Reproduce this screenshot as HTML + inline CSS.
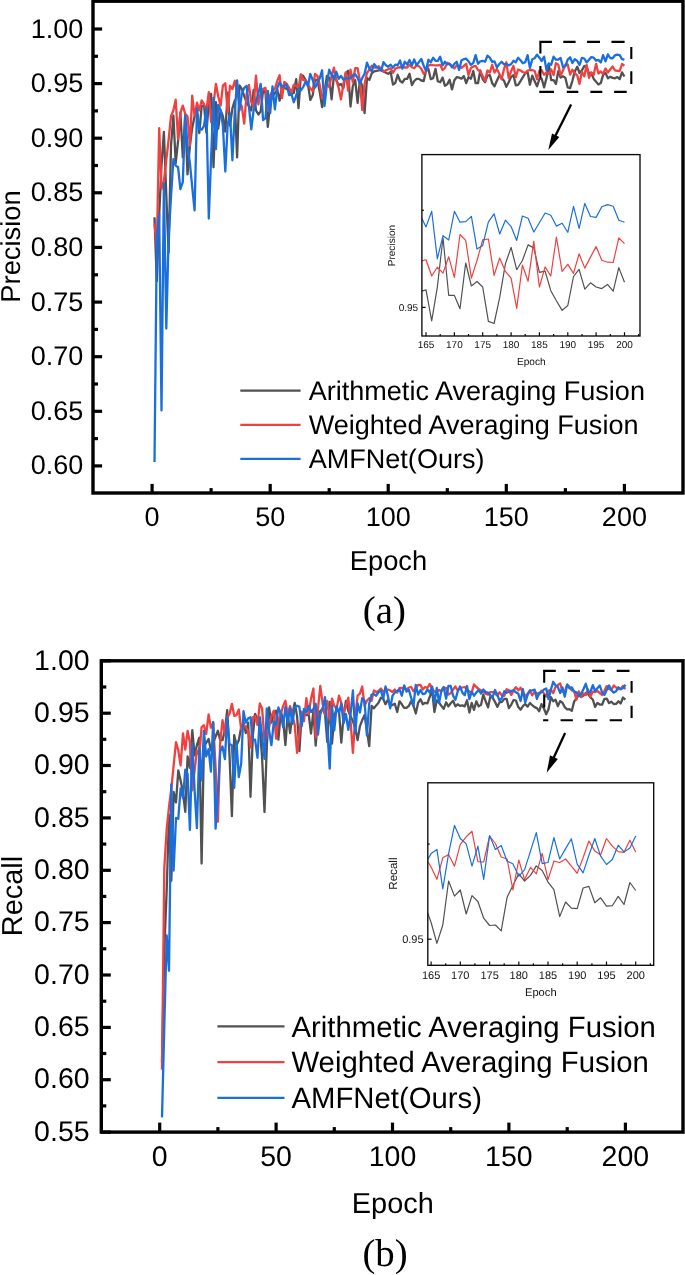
<!DOCTYPE html>
<html lang="en"><head><meta charset="utf-8"><title>Precision and Recall curves</title>
<style>html,body{margin:0;padding:0;background:#fff}body{width:685px;height:1275px;overflow:hidden}svg{display:block;will-change:transform}text{white-space:pre;text-rendering:geometricPrecision}</style>
</head><body>
<svg width="685" height="1275" viewBox="0 0 685 1275">
<rect width="685" height="1275" fill="#fff"/>
<g>
<g fill="none" stroke-width="2.3" stroke-linejoin="round" stroke-linecap="butt">
<polyline stroke="#515151" points="154.5,217.2 156.8,281.2 159.2,215 161.5,165 163.9,132 166.3,195 168.6,252.7 171,145.6 173.4,115.6 175.7,163.2 178.1,140.9 180.4,112.7 182.8,157.3 185.2,115 187.5,174.4 189.9,145.6 192.2,127.9 194.6,116.2 197,113.8 199.3,133.2 201.7,105.6 204.1,105.6 206.4,132.7 208.8,103.2 211.1,93.8 213.5,167.3 215.9,102.1 218.2,128.5 220.6,110.3 222.9,116.2 225.3,131.5 227.7,92.7 230,125.6 232.4,108.4 234.8,100.2 237.1,157.4 239.5,85.4 241.8,88.9 244.2,96.1 246.6,102.2 248.9,106.3 251.3,110.4 253.6,90 256,110.4 258.4,114.5 260.7,111.4 263.1,90 265.5,93 267.8,126.8 270.2,102.2 272.5,96.1 274.9,93 277.3,90 279.6,100.7 282,85.9 284.3,87.9 286.7,88.9 289.1,91 291.4,94 293.8,93 296.2,79.2 298.5,108.1 300.9,74.8 303.2,75.9 305.6,80 308,84 310.3,99.9 312.7,95.3 315,80 317.4,80 319.8,92.2 322.1,107 324.5,92.2 326.9,75.9 329.2,77.9 331.6,99.4 333.9,75.9 336.3,80 338.7,85.1 341,84 343.4,88.1 345.7,73.8 348.1,70.8 350.5,106.5 352.8,86.1 355.2,80 357.6,103 359.9,80 362.3,86.1 364.6,113.2 367,77.9 369.4,80 371.7,73.3 374.1,71.3 376.4,70.8 378.8,70.3 381.2,69.7 383.5,70.8 385.9,72.8 388.2,73.8 390.6,71.8 393,84.6 395.3,83 397.7,74.8 400.1,81 402.4,82.5 404.8,78.9 407.1,78.9 409.5,73.8 411.9,85.1 414.2,81 416.6,78.9 418.9,78.9 421.3,80.5 423.7,81 426,70.8 428.4,68.9 430.8,79.2 433.1,78.1 435.5,68.9 437.8,81.2 440.2,82.2 442.6,77.6 444.9,85.8 447.3,84.3 449.6,79.7 452,89.4 454.4,80.2 456.7,77.1 459.1,77.6 461.5,78.7 463.8,76.1 466.2,83.2 468.5,77.1 470.9,78.7 473.3,71 475.6,83.2 478,83.2 480.3,70.5 482.7,79.2 485.1,82.2 487.4,75.6 489.8,75.1 492.2,83.2 494.5,86.3 496.9,80.7 499.2,75.6 501.6,78.1 504,80.7 506.3,86.8 508.7,82.2 511,77.1 513.4,75.1 515.8,85.3 518.1,84.8 520.5,81.2 522.9,77.1 525.2,73.5 527.6,72 529.9,84.8 532.3,75.6 534.7,81.2 537,86.3 539.4,79.2 541.7,78.7 544.1,87.4 546.5,78 548.8,64 551.2,80.2 553.6,80.2 555.9,84 558.3,71.1 560.6,77.6 563,76.3 565.4,77.9 567.7,87.5 570.1,88.1 572.4,80.8 574.8,71.4 577.2,66.7 579.5,73 581.9,70.4 584.3,66 586.6,66.9 589,73.7 591.3,73.4 593.7,78.9 596.1,81.8 598.4,84.4 600.8,83.1 603.1,74.9 605.5,72.9 607.9,78.4 610.2,76.7 612.6,77.9 615,78.3 617.3,77.1 619.7,79 622,72.4 624.4,76.5"/>
<polyline stroke="#F14040" points="154.5,223.5 156.8,248 159.2,128.2 161.5,189 163.9,181 166.3,160 168.6,140 171,116.2 173.4,110.3 175.7,99.7 178.1,139.1 180.4,112.7 182.8,105.6 185.2,113.8 187.5,116.2 189.9,145.6 192.2,95.6 194.6,116.2 197,102.7 199.3,110.3 201.7,100.3 204.1,104.4 206.4,110.3 208.8,92.1 211.1,122.1 213.5,104.4 215.9,83.8 218.2,96.2 220.6,105.6 222.9,85.6 225.3,83.2 227.7,112.1 230,85.6 232.4,89.1 234.8,80.8 237.1,93 239.5,102.2 241.8,106.3 244.2,123.7 246.6,94 248.9,84.8 251.3,102.2 253.6,106.3 256,75.7 258.4,104.3 260.7,93 263.1,88.9 265.5,87.9 267.8,110.4 270.2,95.1 272.5,91 274.9,88.9 277.3,80.8 279.6,75.2 282,98.1 284.3,81.8 286.7,83.8 289.1,87.9 291.4,92.5 293.8,84.8 296.2,85.9 298.5,88.1 300.9,74.3 303.2,80 305.6,80 308,85.1 310.3,88.1 312.7,91.2 315,73.8 317.4,75.9 319.8,85.1 322.1,98.4 324.5,92.2 326.9,84 329.2,87.1 331.6,75.9 333.9,67.7 336.3,80 338.7,88.1 341,99.4 343.4,84 345.7,72.3 348.1,90.7 350.5,69.7 352.8,82 355.2,68.2 357.6,68.2 359.9,81 362.3,110.1 364.6,84 367,72.8 369.4,69.7 371.7,65.7 374.1,67.7 376.4,67.7 378.8,66.2 381.2,68.7 383.5,71.8 385.9,70.3 388.2,69.2 390.6,68.2 393,72.8 395.3,68.7 397.7,67.5 400.1,67.5 402.4,65.7 404.8,67.5 407.1,67.5 409.5,64.6 411.9,67.2 414.2,68.2 416.6,65.2 418.9,66.2 421.3,68.7 423.7,73.8 426,71.8 428.4,65.4 430.8,64.8 433.1,65.2 435.5,65.4 437.8,65.4 440.2,64.8 442.6,70 444.9,67.9 447.3,62.8 449.6,63.8 452,65.9 454.4,68.4 456.7,65.4 459.1,65.9 461.5,67.9 463.8,65.9 466.2,63.8 468.5,75.1 470.9,67.9 473.3,66.4 475.6,65.9 478,70 480.3,71.5 482.7,76.1 485.1,80.7 487.4,70.5 489.8,72.5 492.2,64.8 494.5,72.5 496.9,68.9 499.2,73.5 501.6,79.2 504,68.9 506.3,62.3 508.7,78.1 511,71.5 513.4,65.9 515.8,77.1 518.1,69.5 520.5,70.5 522.9,72 525.2,73 527.6,70.5 529.9,70 532.3,70 534.7,71 537,79.2 539.4,70.7 541.7,70.2 544.1,74.8 546.5,72.3 548.8,74 551.2,69.4 553.6,75.1 555.9,63.1 558.3,64.8 560.6,75.4 563,70.4 565.4,64.6 567.7,64.4 570.1,74.6 572.4,69.7 574.8,73.5 577.2,75.4 579.5,83.9 581.9,71.7 584.3,76.2 586.6,65 589,77.9 591.3,72.2 593.7,74.8 596.1,63.8 598.4,73.5 600.8,71.5 603.1,74 605.5,68.5 607.9,72.5 610.2,69.5 612.6,66.5 615,70.3 617.3,70.9 619.7,71 622,64 624.4,65.7"/>
<polyline stroke="#1A6FDF" points="154.5,462 156.8,238 159.2,214.2 161.5,410.4 163.9,183.5 166.3,328.5 168.6,238 171,197 173.4,159.1 175.7,165.6 178.1,167.3 180.4,189.1 182.8,182.1 185.2,115.6 187.5,145.6 189.9,163.2 192.2,186.8 194.6,210.3 197,108.5 199.3,129.1 201.7,129.7 204.1,125.6 206.4,107.3 208.8,218.5 211.1,157.3 213.5,97.9 215.9,149.1 218.2,105 220.6,110.3 222.9,125.6 225.3,171.5 227.7,124.4 230,113.8 232.4,160.3 234.8,112 237.1,80.3 239.5,110.4 241.8,94 244.2,87.9 246.6,85.9 248.9,106.3 251.3,129.3 253.6,110.4 256,102.2 258.4,93 260.7,83.8 263.1,120.1 265.5,118.1 267.8,91 270.2,113 272.5,86.4 274.9,109.4 277.3,87.9 279.6,82.3 282,86.4 284.3,85.9 286.7,84.8 289.1,95.1 291.4,94 293.8,102.2 296.2,95.5 298.5,88.7 300.9,90.2 303.2,87.1 305.6,81.5 308,86.1 310.3,73.8 312.7,80 315,87.6 317.4,83 319.8,77.9 322.1,70.3 324.5,106 326.9,84 329.2,69.7 331.6,74.8 333.9,78.9 336.3,71.8 338.7,78.9 341,75.9 343.4,79.5 345.7,78.4 348.1,78.4 350.5,78.4 352.8,75.4 355.2,74.3 357.6,77.9 359.9,83.5 362.3,77.9 364.6,73.8 367,62.6 369.4,68.7 371.7,71.3 374.1,64.1 376.4,66.7 378.8,68.2 381.2,70.8 383.5,62.1 385.9,65.2 388.2,66.7 390.6,64.6 393,67.7 395.3,64.6 397.7,65.2 400.1,60.5 402.4,68.7 404.8,61.6 407.1,64.6 409.5,60 411.9,65.2 414.2,59.5 416.6,65.2 418.9,62.1 421.3,59 423.7,65.7 426,70.8 428.4,59.7 430.8,62.3 433.1,57.7 435.5,60.8 437.8,60.8 440.2,56.7 442.6,65.4 444.9,61.8 447.3,64.3 449.6,63.8 452,67.4 454.4,63.8 456.7,61.8 459.1,70 461.5,60.3 463.8,59.2 466.2,58.7 468.5,61.3 470.9,64.8 473.3,62.8 475.6,55.1 478,63.8 480.3,61.3 482.7,60.8 485.1,61.8 487.4,55.7 489.8,57.7 492.2,61.8 494.5,61.3 496.9,67.4 499.2,64.3 501.6,61.8 504,64.3 506.3,63.8 508.7,65.4 511,64.3 513.4,60.8 515.8,62.3 518.1,57.7 520.5,60.3 522.9,63.3 525.2,62.3 527.6,55.1 529.9,67.9 532.3,59.2 534.7,58.2 537,54.6 539.4,57.7 541.7,61 544.1,56.6 546.5,70 548.8,63.4 551.2,64.7 553.6,56.6 555.9,59.7 558.3,59.5 560.6,58 563,67.2 565.4,66.2 567.7,59.6 570.1,57.3 572.4,63 574.8,59.1 577.2,60.9 579.5,64.8 581.9,57.9 584.3,58.5 586.6,62.4 589,59.8 591.3,57.1 593.7,57.7 596.1,60.7 598.4,59.9 600.8,62.5 603.1,55.2 605.5,61.4 607.9,54.4 610.2,58 612.6,58.3 615,55.3 617.3,54.7 619.7,55.2 622,59.1 624.4,59.7"/>
</g>
<rect x="93" y="1.2" width="590" height="491.8" fill="none" stroke="#000" stroke-width="3.4"/>
<g stroke="#000" stroke-width="3.2">
<line x1="93" y1="465.9" x2="102.1" y2="465.9"/>
<line x1="93" y1="438.6" x2="98" y2="438.6"/>
<line x1="93" y1="411.3" x2="102.1" y2="411.3"/>
<line x1="93" y1="384" x2="98" y2="384"/>
<line x1="93" y1="356.7" x2="102.1" y2="356.7"/>
<line x1="93" y1="329.4" x2="98" y2="329.4"/>
<line x1="93" y1="302.1" x2="102.1" y2="302.1"/>
<line x1="93" y1="274.8" x2="98" y2="274.8"/>
<line x1="93" y1="247.4" x2="102.1" y2="247.4"/>
<line x1="93" y1="220.1" x2="98" y2="220.1"/>
<line x1="93" y1="192.8" x2="102.1" y2="192.8"/>
<line x1="93" y1="165.5" x2="98" y2="165.5"/>
<line x1="93" y1="138.2" x2="102.1" y2="138.2"/>
<line x1="93" y1="110.9" x2="98" y2="110.9"/>
<line x1="93" y1="83.6" x2="102.1" y2="83.6"/>
<line x1="93" y1="56.3" x2="98" y2="56.3"/>
<line x1="93" y1="29" x2="102.1" y2="29"/>
<line x1="152.1" y1="493" x2="152.1" y2="483.9"/>
<line x1="211.1" y1="493" x2="211.1" y2="488.1"/>
<line x1="270.2" y1="493" x2="270.2" y2="483.9"/>
<line x1="329.2" y1="493" x2="329.2" y2="488.1"/>
<line x1="388.2" y1="493" x2="388.2" y2="483.9"/>
<line x1="447.3" y1="493" x2="447.3" y2="488.1"/>
<line x1="506.3" y1="493" x2="506.3" y2="483.9"/>
<line x1="565.4" y1="493" x2="565.4" y2="488.1"/>
<line x1="624.4" y1="493" x2="624.4" y2="483.9"/>
</g>
<g font-family="'Liberation Sans', Arial, sans-serif" font-size="27" fill="#000">
<text x="83.3" y="474.4" text-anchor="end">0.60</text>
<text x="83.3" y="419.8" text-anchor="end">0.65</text>
<text x="83.3" y="365.2" text-anchor="end">0.70</text>
<text x="83.3" y="310.6" text-anchor="end">0.75</text>
<text x="83.3" y="255.9" text-anchor="end">0.80</text>
<text x="83.3" y="201.3" text-anchor="end">0.85</text>
<text x="83.3" y="146.7" text-anchor="end">0.90</text>
<text x="83.3" y="92.1" text-anchor="end">0.95</text>
<text x="83.3" y="37.5" text-anchor="end">1.00</text>
<text x="152.1" y="525.6" text-anchor="middle">0</text>
<text x="270.2" y="525.6" text-anchor="middle">50</text>
<text x="388.2" y="525.6" text-anchor="middle">100</text>
<text x="506.3" y="525.6" text-anchor="middle">150</text>
<text x="624.4" y="525.6" text-anchor="middle">200</text>
<text x="388.5" y="570" text-anchor="middle" font-size="27.3">Epoch</text>
<text transform="translate(20 246.5) rotate(-90)" text-anchor="middle" font-size="27.3">Precision</text>
</g>
<text x="384.4" y="622.5" text-anchor="middle" font-family="'Liberation Serif', 'Times New Roman', serif" font-size="38.8" fill="#000">(a)</text>
<g font-family="'Liberation Sans', Arial, sans-serif" font-size="27.05" fill="#000">
<line x1="240.3" y1="390.6" x2="300.6" y2="390.6" stroke="#515151" stroke-width="2.2"/>
<text x="308.7" y="399.6">Arithmetic Averaging Fusion</text>
<line x1="240.3" y1="424.8" x2="300.6" y2="424.8" stroke="#F14040" stroke-width="2.2"/>
<text x="308.7" y="433.8">Weighted Averaging Fusion</text>
<line x1="240.3" y1="458.9" x2="300.6" y2="458.9" stroke="#1A6FDF" stroke-width="2.2"/>
<text x="308.7" y="467.9">AMFNet(Ours)</text>
</g>
<path d="M539.3 41.9H551.9M563.3 41.9H575.6M587 41.9H600M611.5 41.9H624.6M539.3 91.9H554M566.8 91.9H578.3M590.4 91.9H602.3M614.1 91.9H626.7M540.4 40.9V53.6M540.4 65.9V78.2M540.4 90.9V92.9M631.3 47V59M631.3 71.2V84" fill="none" stroke="#000" stroke-width="2.1"/>
<line x1="571.1" y1="104.4" x2="554.8" y2="137" stroke="#000" stroke-width="2.3"/>
<polygon fill="#000" points="548.3,150 552,133.4 559.3,137.1"/>
</g>
<g>
<rect x="421.9" y="154.6" width="218.1" height="181.4" fill="#fff" stroke="none"/>
<clipPath id="c1"><rect x="421.9" y="154.6" width="218.1" height="181.4"/></clipPath>
<g fill="none" stroke-width="1.2" stroke-linejoin="round" clip-path="url(#c1)">
<polyline stroke="#515151" points="420.3,291.6 426,289.9 431.7,320.9 437.3,287.4 443,237.8 448.7,295.3 454.4,295.4 460,308.7 465.7,263 471.4,286 477,281.5 482.7,287 488.4,321.4 494.1,323.5 499.7,297.4 505.4,263.9 511.1,247.4 516.7,269.7 522.4,260.5 528.1,244.9 533.8,247.9 539.4,272.3 545.1,271.1 550.8,290.7 556.4,300.8 562.1,310.4 567.8,305.5 573.5,276.5 579.1,269.4 584.8,289.1 590.5,282.8 596.1,287 601.8,288.6 607.5,284.4 613.2,291.2 618.8,267.6 624.5,282.3"/>
<polyline stroke="#F14040" points="420.3,261.4 426,259.7 431.7,276 437.3,267.2 443,273.1 448.7,256.8 454.4,277.3 460,234.5 465.7,240.4 471.4,278.1 477,260.5 482.7,239.9 488.4,239 494.1,275.3 499.7,258 505.4,271.4 511.1,278.1 516.7,308.4 522.4,265.2 528.1,281.2 533.8,241.2 539.4,287 545.1,266.9 550.8,276 556.4,237 562.1,271.4 567.8,264.4 573.5,273.4 579.1,253.8 584.8,268.1 590.5,257.1 596.1,246.6 601.8,260.2 607.5,262.2 613.2,262.5 618.8,237.8 624.5,243.7"/>
<polyline stroke="#1A6FDF" points="420.3,215.2 426,226.9 431.7,211.3 437.3,258.8 443,235.7 448.7,240 454.4,211.3 460,222.2 465.7,221.6 471.4,216.4 477,249.1 482.7,245.4 488.4,221.9 494.1,213.8 499.7,234 505.4,220.2 511.1,226.6 516.7,240.4 522.4,216 528.1,218.2 533.8,232 539.4,222.7 545.1,213 550.8,215.2 556.4,226.1 562.1,223.2 567.8,232.3 573.5,206.4 579.1,228.3 584.8,203.4 590.5,216.5 596.1,217.4 601.8,206.8 607.5,204.6 613.2,206.3 618.8,220.2 624.5,222.2"/>
</g>
<rect x="421.9" y="154.6" width="218.1" height="181.4" fill="none" stroke="#0a0a0a" stroke-width="1.35"/>
<g stroke="#0a0a0a" stroke-width="1.2">
<line x1="426" y1="336" x2="426" y2="332.2"/>
<line x1="440.2" y1="336" x2="440.2" y2="334"/>
<line x1="454.4" y1="336" x2="454.4" y2="332.2"/>
<line x1="468.5" y1="336" x2="468.5" y2="334"/>
<line x1="482.7" y1="336" x2="482.7" y2="332.2"/>
<line x1="496.9" y1="336" x2="496.9" y2="334"/>
<line x1="511.1" y1="336" x2="511.1" y2="332.2"/>
<line x1="525.2" y1="336" x2="525.2" y2="334"/>
<line x1="539.4" y1="336" x2="539.4" y2="332.2"/>
<line x1="553.6" y1="336" x2="553.6" y2="334"/>
<line x1="567.8" y1="336" x2="567.8" y2="332.2"/>
<line x1="582" y1="336" x2="582" y2="334"/>
<line x1="596.1" y1="336" x2="596.1" y2="332.2"/>
<line x1="610.3" y1="336" x2="610.3" y2="334"/>
<line x1="624.5" y1="336" x2="624.5" y2="332.2"/>
<line x1="638.7" y1="336" x2="638.7" y2="334"/>
<line x1="421.9" y1="307.4" x2="425.7" y2="307.4"/>
<line x1="421.9" y1="210.3" x2="423.9" y2="210.3"/>
</g>
<g font-family="'Liberation Sans', Arial, sans-serif" font-size="10.0" fill="#111">
<text x="426" y="347.8" text-anchor="middle">165</text>
<text x="454.4" y="347.8" text-anchor="middle">170</text>
<text x="482.7" y="347.8" text-anchor="middle">175</text>
<text x="511.1" y="347.8" text-anchor="middle">180</text>
<text x="539.4" y="347.8" text-anchor="middle">185</text>
<text x="567.8" y="347.8" text-anchor="middle">190</text>
<text x="596.1" y="347.8" text-anchor="middle">195</text>
<text x="624.5" y="347.8" text-anchor="middle">200</text>
<text x="418.2" y="310.9" text-anchor="end">0.95</text>
<text x="531.3" y="365.4" text-anchor="middle" font-size="10.1">Epoch</text>
<text transform="translate(394.7 245.6) rotate(-90)" text-anchor="middle" font-size="10.1">Precision</text>
</g>
</g>
<g>
<g fill="none" stroke-width="2.3" stroke-linejoin="round" stroke-linecap="butt">
<polyline stroke="#515151" points="162,1062 164.3,950 166.7,890 169,815 171.3,880.8 173.6,792 176,802.4 178.3,770.4 180.6,780.4 183,792.9 185.3,811.8 187.6,756.5 189.9,767.8 192.3,730.2 194.6,755.3 196.9,745.2 199.3,737.7 201.6,863.5 203.9,746.5 206.2,742.8 208.6,739 210.9,750.3 213.2,742.8 215.6,736.5 217.9,730.8 220.2,740.2 222.5,740.2 224.9,730.2 227.2,710.1 229.5,755.3 231.9,816.2 234.2,735.2 236.5,745.2 238.8,740.3 241.2,727.1 243.5,722.7 245.8,733.1 248.2,722.7 250.5,796.8 252.8,735.9 255.1,713.9 257.5,719.4 259.8,727.1 262.1,757.8 264.5,812 266.8,746.9 269.1,707.3 271.4,722.7 273.8,713.9 276.1,710.6 278.4,739.7 280.8,711.7 283.1,719.4 285.4,745.2 287.7,713.9 290.1,733.1 292.4,713.9 294.7,702.9 297.1,716.1 299.4,751.2 301.7,713.9 304,713 306.4,715.1 308.7,714 311,733.5 313.4,711 315.7,745.7 318,716.1 320.3,711 322.7,708.9 325,714 327.3,742.1 329.7,701.8 332,743.7 334.3,716.1 336.6,708.9 339,711 341.3,742.7 343.6,716.1 345.9,700.8 348.3,711 350.6,716.1 352.9,721.2 355.3,728.4 357.6,740.1 359.9,726.3 362.2,720.2 364.6,715.1 366.9,730.4 369.2,746.2 371.6,705.9 373.9,708.4 376.2,705.4 378.5,702.8 380.9,697.7 383.2,698.7 385.5,704.3 387.9,699.7 390.2,705.9 392.5,704.9 394.8,703.8 397.2,712 399.5,701.3 401.8,704.3 404.2,707.9 406.5,707.9 408.8,705.9 411.1,701.3 413.5,705.9 415.8,713.5 418.1,702.8 420.5,699.2 422.8,704.3 425.1,702.8 427.4,703.3 429.8,696.7 432.1,690.5 434.4,712 436.8,700.3 439.1,702.8 441.4,705.9 443.7,708.9 446.1,702.3 448.4,706.4 450.7,703.3 453.1,700.8 455.4,706.4 457.7,704.3 460,705.9 462.4,705.4 464.7,706.4 467,700.3 469.4,712.5 471.7,702.8 474,710 476.3,701.3 478.7,706.4 481,704.9 483.3,694.6 485.7,701.3 488,707.4 490.3,696.7 492.6,697.7 495,701.8 497.3,706.9 499.6,702.3 502,701.8 504.3,698.9 506.6,698.9 508.9,708.1 511.3,704.6 513.6,700 515.9,700.5 518.3,707.1 520.6,709.7 522.9,706.1 525.2,704 527.6,706.6 529.9,703 532.2,705.1 534.6,707.1 536.9,708.1 539.2,711.2 541.5,704.1 543.9,708.5 546.2,714.2 548.5,709.2 550.9,697.1 553.2,701.2 555.5,699.6 557.8,706.2 560.2,701.1 562.5,702.7 564.8,707.3 567.2,709.3 569.5,709.2 571.8,710.8 574.1,701.6 576.5,698.3 578.8,695.1 581.1,697.1 583.5,695.6 585.8,692.9 588.1,694.2 590.4,697.4 592.8,699.5 595.1,706.9 597.4,702.9 599.8,704.5 602.1,704.7 604.4,699 606.7,698.6 609.1,703.1 611.4,701.7 613.7,704 616.1,703.9 618.4,701.3 620.7,703.5 623,697.5 625.4,699.7"/>
<polyline stroke="#F14040" points="162,1069.8 164.3,868 166.7,829 169,807 171.3,789 173.6,766 176,742.1 178.3,750.3 180.6,765.3 183,733.3 185.3,749.6 187.6,730.8 189.9,742.8 192.3,790.4 194.6,770.4 196.9,750.3 199.3,755.3 201.6,727.1 203.9,725.2 206.2,734 208.6,714.5 210.9,727.7 213.2,722.7 215.6,767.8 217.9,821.8 220.2,742.8 222.5,720.2 224.9,734 227.2,717.6 229.5,713.9 231.9,703.8 234.2,715.8 236.5,715.1 238.8,709.5 241.2,729.3 243.5,724.9 245.8,727.1 248.2,731.5 250.5,747.4 252.8,717.2 255.1,716.1 257.5,724.9 259.8,703.5 262.1,708.4 264.5,740.3 266.8,735.9 269.1,727.1 271.4,716.1 273.8,710.6 276.1,738.6 278.4,719.4 280.8,713.9 283.1,706.2 285.4,700.8 287.7,713.9 290.1,706.2 292.4,716.1 294.7,724.9 297.1,752.9 299.4,733.7 301.7,711.7 304,721.2 306.4,698.2 308.7,714 311,698.7 313.4,688.5 315.7,737.5 318,708.9 320.3,686 322.7,703.8 325,715.1 327.3,700.8 329.7,720.2 332,698.7 334.3,705.9 336.6,708.9 339,695.7 341.3,702.8 343.6,713 345.9,705.9 348.3,697.7 350.6,722.2 352.9,752.9 355.3,716.1 357.6,695.7 359.9,693.6 362.2,686.5 364.6,705.9 366.9,700.8 369.2,698.2 371.6,700.8 373.9,690.5 376.2,692.1 378.5,691.1 380.9,688.5 383.2,691.6 385.5,690.5 387.9,689.5 390.2,690.5 392.5,692.1 394.8,689.5 397.2,692.6 399.5,688 401.8,688 404.2,688.5 406.5,689.5 408.8,687.5 411.1,687 413.5,691.1 415.8,688.5 418.1,684.9 420.5,684.9 422.8,689.5 425.1,687 427.4,688 429.8,683.9 432.1,688.5 434.4,691.6 436.8,691.6 439.1,690 441.4,691.6 443.7,688.5 446.1,688 448.4,694.6 450.7,693.1 453.1,689.5 455.4,686.5 457.7,690.5 460,688.5 462.4,687.5 464.7,687 467,689.5 469.4,691.6 471.7,692.6 474,684.4 476.3,687 478.7,689 481,690.5 483.3,692.1 485.7,693.6 488,694.6 490.3,692.1 492.6,692.1 495,693.6 497.3,695.7 499.6,692.1 502,695.7 504.3,695.9 506.6,689.2 508.9,690.3 511.3,694.9 513.6,690.3 515.9,687.2 518.3,690.3 520.6,687.7 522.9,692.8 525.2,695.9 527.6,693.8 529.9,690.3 532.2,695.4 534.6,691.8 536.9,693.3 539.2,694.3 541.5,690.7 543.9,693.3 546.2,696.6 548.5,690.7 550.9,689.8 553.2,693 555.5,687 557.8,685 560.2,683.4 562.5,691.8 564.8,691.9 567.2,684.7 569.5,686.8 571.8,690.5 574.1,691 576.5,699.6 578.8,691.3 581.1,696.7 583.5,693.4 585.8,695.1 588.1,689.5 590.4,696.7 592.8,691.6 595.1,692 597.4,691 599.8,693 602.1,695 604.4,690.7 606.7,686.1 609.1,688.9 611.4,689.9 613.7,685.4 616.1,687.5 618.4,689 620.7,689.2 623,685.9 625.4,689.1"/>
<polyline stroke="#1A6FDF" points="162,1117.4 164.3,1026.5 166.7,935.5 169,970.8 171.3,784.3 173.6,870.6 176,818 178.3,818.7 180.6,788.5 183,798 185.3,769.7 187.6,774.1 189.9,830 192.3,742.8 194.6,790.4 196.9,828.1 199.3,748.4 201.6,780.4 203.9,730.8 206.2,756.5 208.6,749 210.9,771.6 213.2,722 215.6,828.7 217.9,792.9 220.2,751.5 222.5,746.5 224.9,759.1 227.2,717.6 229.5,744 231.9,745.2 234.2,787.9 236.5,741.5 238.8,777.1 241.2,763.3 243.5,711.2 245.8,722.7 248.2,718.3 250.5,717.2 252.8,740.3 255.1,739.7 257.5,757.8 259.8,717.2 262.1,735.9 264.5,758.9 266.8,708.4 269.1,730.4 271.4,745.2 273.8,721.6 276.1,724.9 278.4,707.3 280.8,713.9 283.1,727.1 285.4,706.8 287.7,722.7 290.1,707.9 292.4,723.8 294.7,707.3 297.1,705.7 299.4,706.8 301.7,726 304,708.9 306.4,712 308.7,705.9 311,712 313.4,708.9 315.7,703.8 318,734.5 320.3,714 322.7,707.9 325,697.2 327.3,728.4 329.7,768.7 332,705.9 334.3,730.4 336.6,706.4 339,713 341.3,703.8 343.6,723.2 345.9,714 348.3,729.9 350.6,714 352.9,690.5 355.3,733.5 357.6,703.3 359.9,712.5 362.2,698.2 364.6,700.8 366.9,735.5 369.2,703.8 371.6,694.6 373.9,694.1 376.2,695.7 378.5,692.1 380.9,690.5 383.2,698.7 385.5,686.5 387.9,695.7 390.2,708.4 392.5,695.7 394.8,692.6 397.2,691.1 399.5,689.5 401.8,695.7 404.2,685.4 406.5,691.6 408.8,689.5 411.1,697.7 413.5,705.4 415.8,684.9 418.1,694.6 420.5,690 422.8,694.1 425.1,693.6 427.4,689.5 429.8,692.6 432.1,686.5 434.4,702.8 436.8,688 439.1,702.8 441.4,690.5 443.7,687 446.1,698.7 448.4,686 450.7,686 453.1,695.7 455.4,699.7 457.7,691.6 460,686.5 462.4,692.6 464.7,695.1 467,686 469.4,699.2 471.7,691.6 474,695.7 476.3,692.6 478.7,690 481,693.6 483.3,689.5 485.7,692.1 488,692.6 490.3,695.1 492.6,697.2 495,690 497.3,694.6 499.6,700.8 502,697.7 504.3,691.3 506.6,692.8 508.9,691.8 511.3,690.8 513.6,690.3 515.9,692.3 518.3,693.8 520.6,701 522.9,689.2 525.2,702.5 527.6,694.9 529.9,690.8 532.2,690.3 534.6,689.7 536.9,698.9 539.2,692.8 541.5,692.3 543.9,689.6 546.2,688.4 548.5,699.2 550.9,689.6 553.2,681.8 555.5,685.4 557.8,686.9 560.2,693 562.5,687.5 564.8,696.6 567.2,684.6 569.5,688.4 571.8,687.4 574.1,691.6 576.5,692.3 578.8,695.8 581.1,694 583.5,688.9 585.8,683.8 588.1,692.3 590.4,692 592.8,685.2 595.1,691 597.4,688.2 599.8,685.5 602.1,692.5 604.4,694.9 606.7,690 609.1,685.4 611.4,690.3 613.7,692.6 616.1,691.2 618.4,687.3 620.7,689.1 623,688 625.4,684.7"/>
</g>
<rect x="101.3" y="660.8" width="581.7" height="471.3" fill="none" stroke="#000" stroke-width="3.4"/>
<g stroke="#000" stroke-width="3.2">
<line x1="101.3" y1="1132.1" x2="110.8" y2="1132.1"/>
<line x1="101.3" y1="1105.9" x2="106.3" y2="1105.9"/>
<line x1="101.3" y1="1079.7" x2="110.8" y2="1079.7"/>
<line x1="101.3" y1="1053.5" x2="106.3" y2="1053.5"/>
<line x1="101.3" y1="1027.4" x2="110.8" y2="1027.4"/>
<line x1="101.3" y1="1001.2" x2="106.3" y2="1001.2"/>
<line x1="101.3" y1="975" x2="110.8" y2="975"/>
<line x1="101.3" y1="948.8" x2="106.3" y2="948.8"/>
<line x1="101.3" y1="922.6" x2="110.8" y2="922.6"/>
<line x1="101.3" y1="896.4" x2="106.3" y2="896.4"/>
<line x1="101.3" y1="870.3" x2="110.8" y2="870.3"/>
<line x1="101.3" y1="844.1" x2="106.3" y2="844.1"/>
<line x1="101.3" y1="817.9" x2="110.8" y2="817.9"/>
<line x1="101.3" y1="791.7" x2="106.3" y2="791.7"/>
<line x1="101.3" y1="765.5" x2="110.8" y2="765.5"/>
<line x1="101.3" y1="739.3" x2="106.3" y2="739.3"/>
<line x1="101.3" y1="713.2" x2="110.8" y2="713.2"/>
<line x1="101.3" y1="687" x2="106.3" y2="687"/>
<line x1="101.3" y1="660.8" x2="110.8" y2="660.8"/>
<line x1="159.7" y1="1132.1" x2="159.7" y2="1122.6"/>
<line x1="217.9" y1="1132.1" x2="217.9" y2="1127.1"/>
<line x1="276.1" y1="1132.1" x2="276.1" y2="1122.6"/>
<line x1="334.3" y1="1132.1" x2="334.3" y2="1127.1"/>
<line x1="392.5" y1="1132.1" x2="392.5" y2="1122.6"/>
<line x1="450.7" y1="1132.1" x2="450.7" y2="1127.1"/>
<line x1="508.9" y1="1132.1" x2="508.9" y2="1122.6"/>
<line x1="567.2" y1="1132.1" x2="567.2" y2="1127.1"/>
<line x1="625.4" y1="1132.1" x2="625.4" y2="1122.6"/>
</g>
<g font-family="'Liberation Sans', Arial, sans-serif" font-size="28.5" fill="#000">
<text x="89.6" y="1140.8" text-anchor="end">0.55</text>
<text x="89.6" y="1088.4" text-anchor="end">0.60</text>
<text x="89.6" y="1036.1" text-anchor="end">0.65</text>
<text x="89.6" y="983.7" text-anchor="end">0.70</text>
<text x="89.6" y="931.3" text-anchor="end">0.75</text>
<text x="89.6" y="879" text-anchor="end">0.80</text>
<text x="89.6" y="826.6" text-anchor="end">0.85</text>
<text x="89.6" y="774.2" text-anchor="end">0.90</text>
<text x="89.6" y="721.9" text-anchor="end">0.95</text>
<text x="89.6" y="669.5" text-anchor="end">1.00</text>
<text x="159.7" y="1166" text-anchor="middle">0</text>
<text x="276.1" y="1166" text-anchor="middle">50</text>
<text x="392.5" y="1166" text-anchor="middle">100</text>
<text x="508.9" y="1166" text-anchor="middle">150</text>
<text x="625.4" y="1166" text-anchor="middle">200</text>
<text x="392.8" y="1213.1" text-anchor="middle" font-size="28.9">Epoch</text>
<text transform="translate(21.8 896) rotate(-90)" text-anchor="middle" font-size="28.9">Recall</text>
</g>
<text x="385" y="1266.2" text-anchor="middle" font-family="'Liberation Serif', 'Times New Roman', serif" font-size="38.8" fill="#000">(b)</text>
<g font-family="'Liberation Sans', Arial, sans-serif" font-size="29.3" fill="#000">
<line x1="217.4" y1="1026.4" x2="284.5" y2="1026.4" stroke="#515151" stroke-width="2.3"/>
<text x="291.5" y="1036.5">Arithmetic Averaging Fusion</text>
<line x1="217.4" y1="1062.2" x2="284.5" y2="1062.2" stroke="#F14040" stroke-width="2.3"/>
<text x="291.5" y="1072.2">Weighted Averaging Fusion</text>
<line x1="217.4" y1="1097.9" x2="284.5" y2="1097.9" stroke="#1A6FDF" stroke-width="2.3"/>
<text x="291.5" y="1108">AMFNet(Ours)</text>
</g>
<path d="M543.1 670.9H555.8M567.7 670.9H580M592.2 670.9H604.5M616.7 670.9H629.5M543.1 720.3H548.3M560.6 720.3H572.9M585.2 720.3H597.4M609.7 720.3H622M544.2 669.9V682.8M544.2 694.6V707.6M544.2 719.3V721.3M631.6 680.9V692.8M631.6 705.8V718.1" fill="none" stroke="#000" stroke-width="2.1"/>
<line x1="565.1" y1="732.9" x2="553.1" y2="758.9" stroke="#000" stroke-width="2.3"/>
<polygon fill="#000" points="546.7,772.8 550,755.3 557.8,758.9"/>
</g>
<g>
<rect x="427.8" y="782.8" width="225.9" height="182.5" fill="#fff" stroke="none"/>
<clipPath id="c2"><rect x="427.8" y="782.8" width="225.9" height="182.5"/></clipPath>
<g fill="none" stroke-width="1.2" stroke-linejoin="round" clip-path="url(#c2)">
<polyline stroke="#515151" points="425.3,906.5 431.1,922.5 436.9,943.4 442.8,925 448.6,881 454.5,896.1 460.3,890 466.2,914 472,895.6 477.9,901.5 483.7,918.2 489.6,925.5 495.4,925 501.2,930.8 507.1,897.3 512.9,885.5 518.8,873.8 524.6,881 530.5,875.4 536.3,865.9 542.2,870.4 548,882.1 553.9,889.7 559.7,916.6 565.6,902 571.4,908.2 577.2,908.7 583.1,888 588.9,886.4 594.8,902.8 600.6,897.8 606.5,906.2 612.3,905.7 618.2,896.4 624,904.5 629.9,882.5 635.7,890.5"/>
<polyline stroke="#F14040" points="425.3,857.8 431.1,867 436.9,879.3 442.8,857.8 448.6,854.5 454.5,866.2 460.3,844.4 466.2,836.8 472,831.3 477.9,861.7 483.7,862 489.6,836 495.4,843.5 501.2,857 507.1,859 512.9,890 518.8,860 524.6,879.6 530.5,867.4 536.3,873.8 542.2,853.3 548,879.6 553.9,861.2 559.7,862.5 565.6,859 571.4,866.2 577.2,873.3 583.1,857.8 588.9,841 594.8,851.1 600.6,855 606.5,838.5 612.3,846.1 618.2,851.6 624,852.3 629.9,840.2 635.7,851.9"/>
<polyline stroke="#1A6FDF" points="425.3,863.7 431.1,853.6 436.9,849.4 442.8,888.9 448.6,853.6 454.5,825.4 460.3,838.5 466.2,843.9 472,866.2 477.9,846.1 483.7,879.3 489.6,835.5 495.4,849.4 501.2,845.5 507.1,861.2 512.9,863.7 518.8,876.3 524.6,869.6 530.5,851.1 536.3,832.6 542.2,863.7 548,862.5 553.9,837.7 559.7,859 565.6,848.6 571.4,838.8 577.2,864.2 583.1,872.9 588.9,855.3 594.8,838.5 600.6,856.1 606.5,864.5 612.3,859.5 618.2,845.2 624,851.9 629.9,848.1 635.7,836"/>
</g>
<rect x="427.8" y="782.8" width="225.9" height="182.5" fill="none" stroke="#0a0a0a" stroke-width="1.35"/>
<g stroke="#0a0a0a" stroke-width="1.2">
<line x1="431.1" y1="965.3" x2="431.1" y2="961.5"/>
<line x1="445.7" y1="965.3" x2="445.7" y2="963.3"/>
<line x1="460.3" y1="965.3" x2="460.3" y2="961.5"/>
<line x1="474.9" y1="965.3" x2="474.9" y2="963.3"/>
<line x1="489.6" y1="965.3" x2="489.6" y2="961.5"/>
<line x1="504.2" y1="965.3" x2="504.2" y2="963.3"/>
<line x1="518.8" y1="965.3" x2="518.8" y2="961.5"/>
<line x1="533.4" y1="965.3" x2="533.4" y2="963.3"/>
<line x1="548" y1="965.3" x2="548" y2="961.5"/>
<line x1="562.6" y1="965.3" x2="562.6" y2="963.3"/>
<line x1="577.2" y1="965.3" x2="577.2" y2="961.5"/>
<line x1="591.9" y1="965.3" x2="591.9" y2="963.3"/>
<line x1="606.5" y1="965.3" x2="606.5" y2="961.5"/>
<line x1="621.1" y1="965.3" x2="621.1" y2="963.3"/>
<line x1="635.7" y1="965.3" x2="635.7" y2="961.5"/>
<line x1="650.3" y1="965.3" x2="650.3" y2="963.3"/>
<line x1="427.8" y1="939.2" x2="431.6" y2="939.2"/>
<line x1="427.8" y1="844.1" x2="429.8" y2="844.1"/>
</g>
<g font-family="'Liberation Sans', Arial, sans-serif" font-size="11.0" fill="#111">
<text x="431.1" y="978.6" text-anchor="middle">165</text>
<text x="460.3" y="978.6" text-anchor="middle">170</text>
<text x="489.6" y="978.6" text-anchor="middle">175</text>
<text x="518.8" y="978.6" text-anchor="middle">180</text>
<text x="548" y="978.6" text-anchor="middle">185</text>
<text x="577.2" y="978.6" text-anchor="middle">190</text>
<text x="606.5" y="978.6" text-anchor="middle">195</text>
<text x="635.7" y="978.6" text-anchor="middle">200</text>
<text x="423.6" y="943.1" text-anchor="end">0.95</text>
<text x="540.8" y="996.3" text-anchor="middle" font-size="11.2">Epoch</text>
<text transform="translate(396.8 873.6) rotate(-90)" text-anchor="middle" font-size="11.6">Recall</text>
</g>
</g>
</svg>
</body></html>
